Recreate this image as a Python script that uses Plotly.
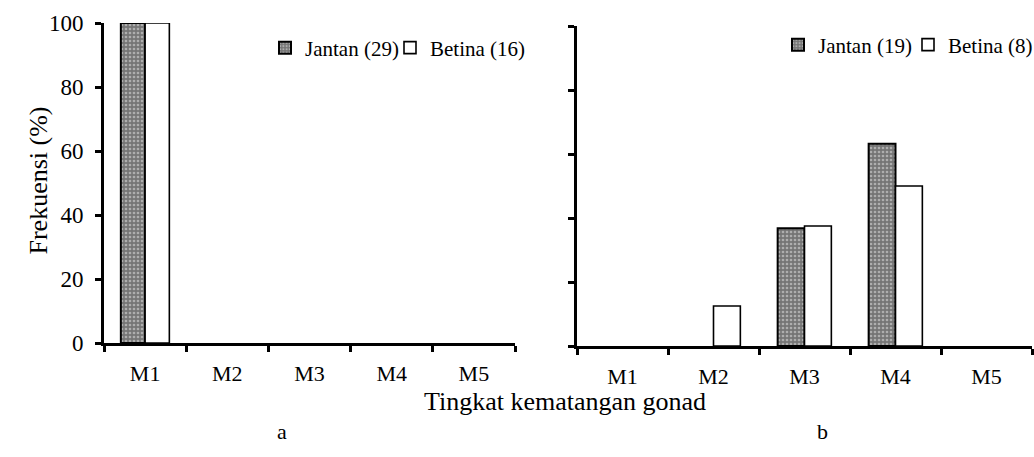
import plotly.graph_objects as go

categories = ["M1", "M2", "M3", "M4", "M5"]
jantan_a = [100, 0, 0, 0, 0]
betina_a = [100, 0, 0, 0, 0]
jantan_b = [0, 0, 36.8, 63.2, 0]
betina_b = [0, 12.5, 37.5, 50.0, 0]
y_ticks = [0, 20, 40, 60, 80, 100]
legend_names = ["Jantan (29)", "Betina (16)", "Jantan (19)", "Betina (8)"]

W, H = 1034, 457
FONT = "Liberation Serif"

def px_x(p):
    return p / W

def px_y(p):
    return (H - p) / H

J_W, B_W = 2, 1.6
J_PATTERN = dict(shape=".", fgcolor="#e8e8e8", bgcolor="#757575", size=4,
                 solidity=0.35, fillmode="overlay")

def jantan_marker(vals):
    return dict(color="#8c8c8c", pattern=J_PATTERN,
                line=dict(color="black", width=[J_W if v > 0 else 0 for v in vals]))

def betina_marker(vals):
    return dict(color="white",
                line=dict(color="black", width=[B_W if v > 0 else 0 for v in vals]))

fig = go.Figure()
fig.add_trace(go.Bar(x=categories, y=jantan_a, marker=jantan_marker(jantan_a),
                     xaxis="x", yaxis="y", showlegend=False, offsetgroup="j"))
fig.add_trace(go.Bar(x=categories, y=betina_a, marker=betina_marker(betina_a),
                     xaxis="x", yaxis="y", showlegend=False, offsetgroup="b"))
fig.add_trace(go.Bar(x=categories, y=jantan_b, marker=jantan_marker(jantan_b),
                     xaxis="x2", yaxis="y2", showlegend=False, offsetgroup="j"))
fig.add_trace(go.Bar(x=categories, y=betina_b, marker=betina_marker(betina_b),
                     xaxis="x2", yaxis="y2", showlegend=False, offsetgroup="b"))

# legend-only entries (one legend per entry so each can be placed)
leg_markers = [
    dict(color="#8c8c8c", pattern=J_PATTERN, line=dict(color="black", width=J_W)),
    dict(color="white", line=dict(color="black", width=B_W)),
    dict(color="#8c8c8c", pattern=J_PATTERN, line=dict(color="black", width=J_W)),
    dict(color="white", line=dict(color="black", width=B_W)),
]
leg_ids = ["legend", "legend2", "legend3", "legend4"]
leg_axes = [("x", "y"), ("x", "y"), ("x2", "y2"), ("x2", "y2")]
leg_groups = ["j", "b", "j", "b"]
for name, mk, lid, (xa, ya), og in zip(legend_names, leg_markers, leg_ids, leg_axes, leg_groups):
    fig.add_trace(go.Bar(x=[None], y=[None], name=name, marker=mk, xaxis=xa, yaxis=ya,
                         legend=lid, showlegend=True, offsetgroup=og))

xcommon = dict(type="category", categoryarray=categories, categoryorder="array",
               range=[-0.5, 4.5], showline=True, linecolor="black",
               linewidth=3, ticks="outside", tickson="boundaries", ticklen=6, tickwidth=3,
               tickcolor="black", showgrid=False, zeroline=False, automargin=False,
               tickfont=dict(family=FONT, size=22, color="black"), ticklabelstandoff=9,
               fixedrange=True)
ycommon = dict(range=[0, 100], tickvals=y_ticks, showline=True, linecolor="black",
               linewidth=3, ticks="outside", ticklen=6, tickwidth=3, tickcolor="black",
               showgrid=False, zeroline=False, automargin=False, fixedrange=True,
               tickfont=dict(family=FONT, size=23, color="black"), ticklabelstandoff=7)

def leg(x_text, y_c):
    return dict(orientation="h", x=px_x(x_text - 40), y=px_y(y_c), xanchor="left",
                yanchor="middle", font=dict(family=FONT, size=21, color="black"),
                bgcolor="rgba(0,0,0,0)", itemwidth=30)

fig.update_layout(
    width=W, height=H, margin=dict(l=0, r=0, t=0, b=0, autoexpand=False),
    paper_bgcolor="white", plot_bgcolor="white",
    barmode="group", bargap=0.41, bargroupgap=0,
    font=dict(family=FONT, color="black"),
    xaxis=dict(domain=[px_x(104), px_x(515)], anchor="y", **xcommon),
    yaxis=dict(domain=[px_y(343), px_y(23)], anchor="x", showticklabels=True, **ycommon),
    xaxis2=dict(domain=[px_x(577), px_x(1032)], anchor="y2", **xcommon),
    yaxis2=dict(domain=[px_y(346), px_y(26)], anchor="x2", showticklabels=False, **ycommon),
    legend=leg(305, 48),
    legend2=leg(430, 48),
    legend3=leg(818, 45),
    legend4=leg(948, 45),
    annotations=[
        dict(text="Frekuensi (%)", x=px_x(21), y=px_y(181), xref="paper", yref="paper",
             showarrow=False, textangle=-90, font=dict(family=FONT, size=26, color="black")),
        dict(text="Tingkat kematangan gonad", x=px_x(565), y=px_y(418), xref="paper",
             yref="paper", showarrow=False, font=dict(family=FONT, size=26, color="black")),
        dict(text="a", x=px_x(275), y=px_y(446), xref="paper", yref="paper",
             showarrow=False, font=dict(family=FONT, size=22, color="black")),
        dict(text="b", x=px_x(830), y=px_y(446), xref="paper", yref="paper",
             showarrow=False, font=dict(family=FONT, size=22, color="black")),
    ],
)

fig.write_html("out.html", config={"displayModeBar": False},
               post_script="document.body.style.margin='0px';document.body.style.padding='0px';")
